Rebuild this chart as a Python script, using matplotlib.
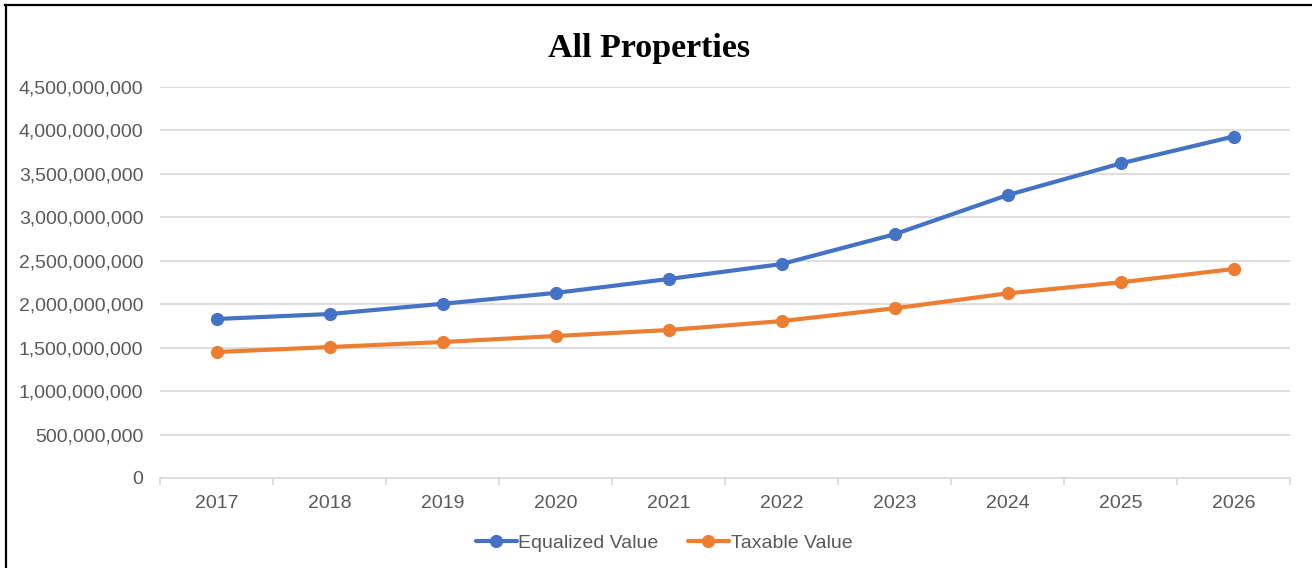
import matplotlib
matplotlib.use("Agg")
import matplotlib.pyplot as plt
from matplotlib.ticker import FuncFormatter
from matplotlib.lines import Line2D

years = ["2017", "2018", "2019", "2020", "2021", "2022", "2023", "2024", "2025", "2026"]
equalized = [1.83e9, 1.887e9, 2.005e9, 2.13e9, 2.29e9, 2.462e9, 2.805e9, 3.256e9, 3.62e9, 3.93e9]
taxable = [1.45e9, 1.507e9, 1.565e9, 1.634e9, 1.703e9, 1.806e9, 1.953e9, 2.125e9, 2.252e9, 2.405e9]

W, H = 1312, 568
fig = plt.figure(figsize=(W / 100, H / 100), dpi=100)
fig.patch.set_facecolor("white")
# border: top and left edges only
fig.lines.append(Line2D([5 / W, 1 + 0.01], [1 - 5 / H, 1 - 5 / H], transform=fig.transFigure,
                        color="black", linewidth=1.6))
fig.lines.append(Line2D([5.5 / W, 5.5 / W], [-0.01, 1 - 5 / H], transform=fig.transFigure,
                        color="black", linewidth=1.6))

ax = fig.add_axes([160 / W, (H - 478) / H, (1290 - 160) / W, (478 - 87) / H])
x = list(range(len(years)))
ax.plot(x, equalized, color="#4472C4", linewidth=3.0, marker="o", markersize=8.5,
        label="Equalized Value", solid_capstyle="round")
ax.plot(x, taxable, color="#ED7D31", linewidth=3.0, marker="o", markersize=8.5,
        label="Taxable Value", solid_capstyle="round")

ax.set_xlim(-0.5, len(years) - 0.5)
ax.set_ylim(0, 4.5e9)
ax.set_yticks([i * 5e8 for i in range(10)])
ax.yaxis.set_major_formatter(FuncFormatter(lambda v, p: f"{int(v):,}"))
ax.set_xticks(x)
ax.set_xticklabels(years)
ax.set_xticks([i - 0.5 for i in range(len(years) + 1)], minor=True)

for s in ["top", "right", "left"]:
    ax.spines[s].set_visible(False)
ax.spines["bottom"].set_color("#d9d9d9")
ax.spines["bottom"].set_linewidth(1.2)
ax.grid(axis="y", color="#d9d9d9", linewidth=1.2)
ax.set_axisbelow(True)

ax.tick_params(axis="y", length=0, pad=12, labelsize=14, labelcolor="#595959",
               labelfontfamily="Liberation Sans")
ax.tick_params(axis="x", which="major", length=0, pad=12, labelsize=14,
               labelcolor="#595959", labelfontfamily="Liberation Sans")
ax.tick_params(axis="x", which="minor", length=5, color="#d9d9d9", width=1.2)

fig.text(649 / W, 1 - 48 / H, "All Properties", ha="center", va="center",
         fontsize=24.5, fontweight="bold", family="Liberation Serif")

leg = fig.legend(loc="center", bbox_to_anchor=(664 / W, 1 - 543 / H), ncol=2,
                 frameon=False, prop={"family": "Liberation Sans", "size": 14},
                 handlelength=2.1, handletextpad=0.1, columnspacing=1.5)
for t in leg.get_texts():
    t.set_color("#595959")

fig.savefig("out.png", dpi=100)
